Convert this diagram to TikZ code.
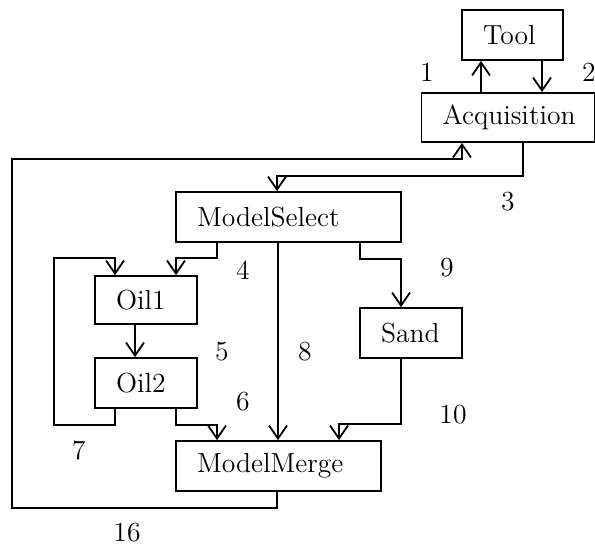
\documentclass[tikz,border=0pt]{standalone}
\usetikzlibrary{arrows.meta}
\begin{document}
\begin{tikzpicture}[x=0.5pt,y=-0.5pt,
  every node/.style={font=\fontsize{13.8}{16}\selectfont},
  box/.style={draw,line width=0.9pt,rectangle,inner xsep=10.5pt,inner ysep=0pt,align=left,minimum height=#1*0.5pt},
  box/.default=50,
  arr/.style={draw,line width=0.9pt,-{Straight Barb[length=6.5pt,width=9pt,line width=0.9pt]}},
  lbl/.style={inner sep=0pt}]
\useasboundingbox (0,0) rectangle (595,548);
% boxes
\node[box=50,text width=29.5pt] (tool) at (512.5,35) {Tool};
\node[box=49,text width=65.5pt] (acq) at (508,117.5) {Acquisition};
\node[box=50,text width=91.5pt] (msel) at (288.5,217) {ModelSelect};
\node[box=48,text width=30pt] (oil1) at (146,300) {Oil1};
\node[box=50,text width=30pt] (oil2) at (146,383) {Oil2};
\node[box=50,text width=30pt] (sand) at (411,333) {Sand};
\node[box=50,text width=81.5pt] (mmerge) at (278.5,466) {ModelMerge};
% connectors
\draw[arr] (acq.north -| 481,0) -- (tool.south -| 481,0);
\draw[arr] (tool.south -| 542,0) -- (acq.north -| 542,0);
\draw[arr] (acq.south -| 523,0) -- (523,176) -- (277,176) -- (msel.north -| 277,0);
\draw[arr] (msel.south -| 217,0) -- (217,258) -- (176,258) -- (oil1.north -| 176,0);
\draw[arr] (oil1.south -| 135,0) -- (oil2.north -| 135,0);
\draw[arr] (oil2.south -| 176,0) -- (176,425) -- (217,425) -- (mmerge.north -| 217,0);
\draw[arr] (oil2.south -| 115,0) -- (115,425) -- (54,425) -- (54,258) -- (115,258) -- (oil1.north -| 115,0);
\draw[arr] (msel.south -| 278,0) -- (mmerge.north -| 278,0);
\draw[arr] (msel.south -| 360,0) -- (360,259) -- (401,259) -- (sand.north -| 401,0);
\draw[arr] (sand.south -| 401,0) -- (401,424) -- (339,424) -- (mmerge.north -| 339,0);
\draw[arr] (mmerge.south -| 277,0) -- (277,508) -- (12,508) -- (12,159) -- (462,159) -- (acq.south -| 462,0);
% small overdrawn segments
\draw[line width=1.3pt] (256,159) -- (277,159);
\draw[line width=1.3pt] (256,192) -- (336,192);
% labels
\node[lbl] (l1) at (427,72) {1};
\node[lbl] (l2) at (589,72) {2};
\node[lbl] (l3) at (508,202) {3};
\node[lbl] (l4) at (243,270) {4};
\node[lbl] (l5) at (222,352) {5};
\node[lbl] (l6) at (243,402) {6};
\node[lbl] (l7) at (79,450) {7};
\node[lbl] (l8) at (305,352) {8};
\node[lbl] (l9) at (447,268) {9};
\node[lbl] (l10) at (453,415) {10};
\node[lbl] (l16) at (127,533) {16};
\end{tikzpicture}
\end{document}
